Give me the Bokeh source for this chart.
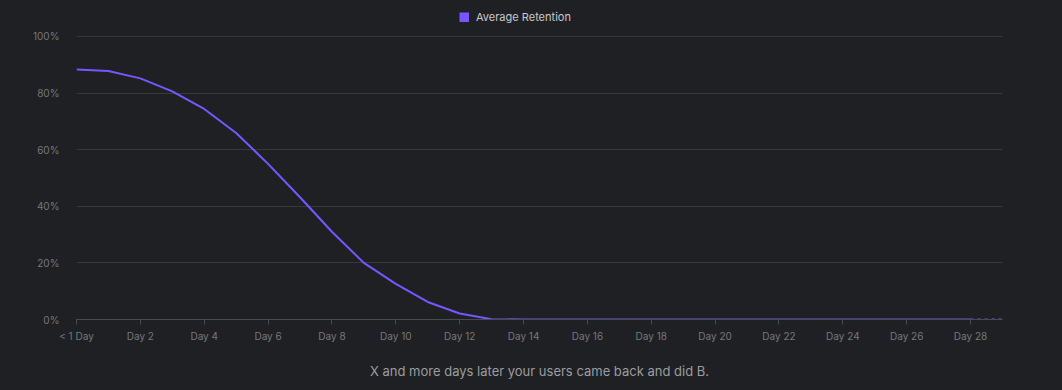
from bokeh.plotting import figure
from bokeh.models import (ColumnDataSource, FixedTicker, Legend, LegendItem, Range1d)
from bokeh.embed import file_html
from bokeh.resources import INLINE

# ---- data ----
days = list(range(0, 29))
retention = [88.3, 87.8, 85.2, 80.6, 74.4, 65.9, 55.0, 43.2, 31.0, 20.0, 12.6, 6.2, 2.1,
             0.1, 0, 0, 0, 0, 0, 0, 0, 0, 0, 0, 0, 0, 0, 0, 0]
partial_days = [28, 29]
partial_retention = [0, 0]
x_ticks = list(range(0, 29, 2))
x_tick_labels = ["< 1 Day"] + ["Day %d" % d for d in range(2, 29, 2)]
y_ticks = [0, 20, 40, 60, 80, 100]
y_tick_labels = ["%d%%" % v for v in y_ticks]
series_name = "Average Retention"
caption = "X and more days later your users came back and did B."

BG = "#1f2024"
PURPLE = "#7856ff"
GRID = "#37383c"
AXIS = "#4a4b50"
TICKTXT = "#76777c"
FONT = "Inter"

# frame spans page y 5..319; 100% sits at y=36, so the range top is a bit above 100
p = figure(width=1062, height=390, output_backend="svg", toolbar_location=None,
           x_range=Range1d(0, 29), y_range=Range1d(0, 110.95),
           min_border_left=76, min_border_right=60, min_border_top=5, min_border_bottom=71)
p.background_fill_color = BG
p.border_fill_color = BG
p.outline_line_color = None

src = ColumnDataSource(dict(x=days, y=retention))
p.line("x", "y", source=src, line_color=PURPLE, line_width=2)
p.line(partial_days, partial_retention, line_color=PURPLE, line_width=2, line_dash="3 4")

# legend swatch: a hidden, thick copy of the series, used only for the legend's square
swatch = p.line("x", "y", source=src, line_color=PURPLE, line_width=10,
                line_cap="butt", visible=False)

# axes
xa = p.xaxis[0]
xa.ticker = FixedTicker(ticks=x_ticks)
xa.major_label_overrides = {t: l for t, l in zip(x_ticks, x_tick_labels)}
xa.minor_tick_line_color = None
xa.major_tick_out = 5
xa.major_tick_in = 0
xa.major_tick_line_color = AXIS
xa.axis_line_color = AXIS
xa.major_label_text_color = TICKTXT
xa.major_label_text_font = FONT
xa.major_label_text_font_size = "10px"
xa.major_label_standoff = 5
xa.axis_label = caption
xa.axis_label_text_font = FONT
xa.axis_label_text_font_size = "13px"
xa.axis_label_text_font_style = "normal"
xa.axis_label_text_color = "#9c9ca0"
xa.axis_label_standoff = 18

ya = p.yaxis[0]
ya.ticker = FixedTicker(ticks=y_ticks)
ya.major_label_overrides = {t: l for t, l in zip(y_ticks, y_tick_labels)}
ya.minor_tick_line_color = None
ya.major_tick_line_color = None
ya.axis_line_color = None
ya.major_label_text_color = TICKTXT
ya.major_label_text_font = FONT
ya.major_label_text_font_size = "10px"
ya.major_label_standoff = 11

p.xgrid.grid_line_color = None
p.ygrid.grid_line_color = GRID
p.ygrid.grid_line_width = 1

legend = Legend(items=[LegendItem(label=series_name, renderers=[swatch])],
                location=(383, 295), orientation="horizontal",
                glyph_width=10, glyph_height=10, label_standoff=7,
                label_text_font=FONT, label_text_font_size="11px",
                label_text_color="#c8c8cc", label_height=12,
                padding=0, margin=0, spacing=0,
                inactive_fill_alpha=0,
                background_fill_alpha=0, border_line_color=None)
p.add_layout(legend, "center")

html = file_html(p, INLINE)
html = html.replace("<head>", "<head><style>body{background:%s;}</style>" % BG, 1)
open("out.html", "w").write(html)
